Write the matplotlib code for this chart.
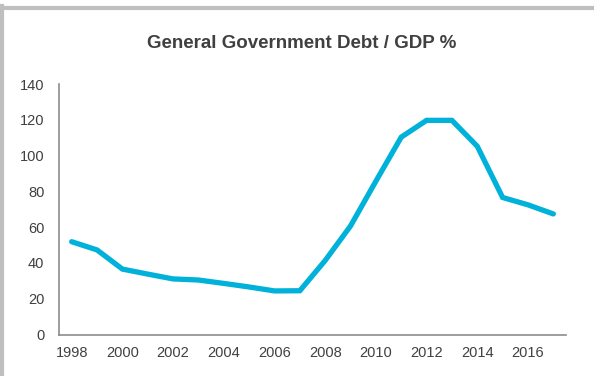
import matplotlib
matplotlib.use('Agg')
import matplotlib.pyplot as plt
from matplotlib.lines import Line2D

years = list(range(1998, 2018))
debt_gdp = [51.9, 47.3, 36.6, 33.8, 31.1, 30.5, 28.6, 26.6, 24.4, 24.5,
            41.4, 60.7, 85.7, 110.3, 119.7, 119.7, 105.2, 76.6, 72.5, 67.4]
xtick_labels = [str(y) for y in years[::2]]
yticks = [0, 20, 40, 60, 80, 100, 120, 140]

plt.rcParams['font.family'] = ['Liberation Sans', 'DejaVu Sans']
text_col = '#404040'

fig = plt.figure(figsize=(5.94, 3.76), dpi=100)
fig.patch.set_facecolor('white')
ax = fig.add_axes([59/594, 1-334.6/376, (566-59)/594, (334.6-84)/376])

x = list(range(len(years)))
ax.plot(x, debt_gdp, color='#00b1d9', lw=3.8, solid_capstyle='round', solid_joinstyle='miter')

ax.set_xlim(-0.5, len(years)-0.5)
ax.set_ylim(0, 140)
ax.set_xticks(x[::2])
ax.set_xticklabels(xtick_labels)
ax.set_yticks(yticks)
ax.tick_params(axis='both', length=0, labelsize=10.5, colors=text_col)
ax.tick_params(axis='y', pad=10.5)
ax.tick_params(axis='x', pad=8)
for s in ['top', 'right']:
    ax.spines[s].set_visible(False)
for s in ['left', 'bottom']:
    ax.spines[s].set_color('#8c8c8c')
    ax.spines[s].set_linewidth(1.2)

fig.text(0.508, 1-44/376, 'General Government Debt / GDP %', ha='center', va='center',
         fontsize=13.5, fontweight='bold', color=text_col)

# frame border (top and left)
fig.add_artist(Line2D([0, 1], [1-7.5/376, 1-7.5/376], transform=fig.transFigure, color='#bfbfbf', lw=3))
fig.add_artist(Line2D([2/594, 2/594], [0, 1-6/376], transform=fig.transFigure, color='#bfbfbf', lw=3))

fig.savefig('out.png', dpi=100)
